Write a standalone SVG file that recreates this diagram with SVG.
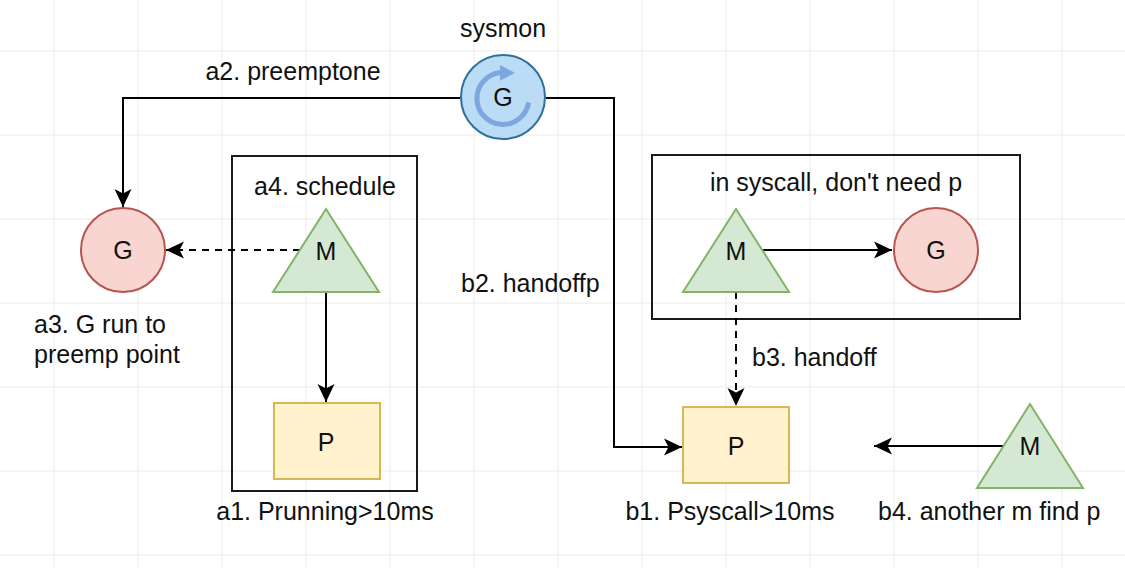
<svg xmlns="http://www.w3.org/2000/svg" width="1125" height="568" viewBox="0 0 1125 568">
<style>
text{font-family:"Liberation Sans",Arial,sans-serif;font-size:25px;fill:#111}
.c{text-anchor:middle}
.grid{stroke:#ebebeb;stroke-width:1;fill:none}
.box{fill:none;stroke:#1a1a1a;stroke-width:2}
.g{fill:#f8d5d0;stroke:#b85450;stroke-width:2}
.m{fill:#d5e8d4;stroke:#82b366;stroke-width:2}
.p{fill:#fff2cc;stroke:#d6b656;stroke-width:2}
.ln{fill:none;stroke:#000;stroke-width:2;marker-end:url(#ah)}
.dash{stroke-dasharray:7 6}
</style>
<defs>
<marker id="ah" markerUnits="userSpaceOnUse" viewBox="-20 -10 20 20" markerWidth="20" markerHeight="20" refX="0" refY="0" orient="auto">
<path d="M0,0 L-18,-8.5 L-13.5,0 L-18,8.5 Z" fill="#000"/>
</marker>
</defs>
<rect width="1125" height="568" fill="#fff"/>
<path class="grid" d="M54,0V568M138,0V568M222,0V568M306,0V568M390,0V568M474,0V568M558,0V568M642,0V568M726,0V568M810,0V568M894,0V568M978,0V568M1062,0V568M0,51H1125M0,135H1125M0,219H1125M0,303H1125M0,387H1125M0,471H1125M0,555H1125"/>

<g id="boxA"><rect class="box" x="232" y="156" width="185" height="335"/><text class="c" x="325" y="195">a4. schedule</text></g>
<g id="boxB"><rect class="box" x="652" y="155" width="368" height="164"/><text class="c" x="836" y="191">in syscall, don't need p</text></g>

<g id="connectors">
<path class="ln" d="M461,98 H123 V207"/>
<path class="ln" d="M546,98 H614 V447 H682"/>
<path class="ln dash" d="M300,250 H166"/>
<path class="ln" d="M326,292 V402"/>
<path class="ln" d="M763,250 H892"/>
<path class="ln dash" d="M736,292 V406"/>
<path class="ln" d="M1004,446 H874"/>
</g>

<g id="sysmon">
<circle cx="503" cy="97" r="42" fill="#badcf5" stroke="#2f7198" stroke-width="2"/>
<path d="M501,72.5 A26,26 0 1 0 528.6,102.5" fill="none" stroke="#7ea6e0" stroke-width="5"/>
<path d="M500,65 L515,72.8 L500,80.7 Z" fill="#7ea6e0"/>
<text class="c" x="503" y="106">G</text>
<text class="c" x="503" y="37">sysmon</text>
</g>
<text class="c" x="293" y="80">a2. preemptone</text>

<g id="gA"><circle class="g" cx="123" cy="250" r="42"/><text class="c" x="123" y="259">G</text></g>
<text x="34" y="333">a3. G run to</text>
<text x="34" y="363">preemp point</text>

<g id="mA"><path class="m" d="M326,209 L379,292 L273,292 Z"/><text class="c" x="326" y="260">M</text></g>
<g id="pA"><rect class="p" x="274" y="403" width="106" height="76"/><text class="c" x="326" y="451">P</text></g>
<text class="c" x="325" y="520">a1. Prunning&gt;10ms</text>

<text x="461" y="292">b2. handoffp</text>

<g id="mB"><path class="m" d="M736,209 L789,292 L683,292 Z"/><text class="c" x="736" y="260">M</text></g>
<g id="gB"><circle class="g" cx="936" cy="250" r="42"/><text class="c" x="936" y="259">G</text></g>
<text x="752" y="366">b3. handoff</text>

<g id="pB"><rect class="p" x="683" y="407" width="106" height="76"/><text class="c" x="736" y="455">P</text></g>
<text class="c" x="730" y="520">b1. Psyscall&gt;10ms</text>

<g id="mC"><path class="m" d="M1030,404 L1083,488 L977,488 Z"/><text class="c" x="1030" y="455">M</text></g>
<text x="878" y="520">b4. another m find p</text>
</svg>
